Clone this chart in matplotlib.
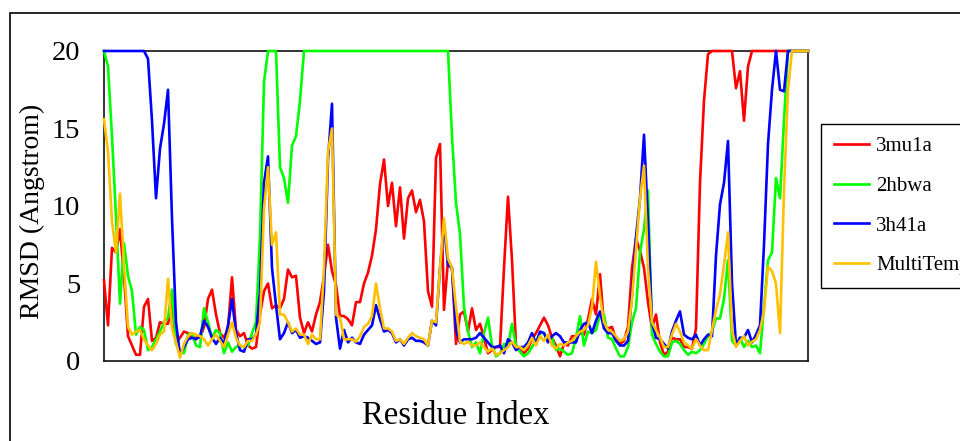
import matplotlib
matplotlib.use("Agg")
import matplotlib.pyplot as plt
from matplotlib.patches import Rectangle
from matplotlib.font_manager import FontProperties

residues = list(range(1, 178))

r3mu1a = [
    5.2, 2.3, 7.3, 7.0, 8.5, 5.5, 1.6, 1.0, 0.4, 0.4,
    3.5, 4.0, 1.3, 1.5, 2.5, 2.4, 2.4, 3.7, 1.2, 1.5,
    1.9, 1.8, 1.5, 1.5, 1.5, 2.2, 4.0, 4.6, 3.0, 1.8,
    1.5, 2.1, 5.4, 2.0, 1.6, 1.8, 1.0, 0.8, 0.9, 3.0,
    4.5, 5.0, 3.4, 3.6, 3.4, 4.0, 5.9, 5.4, 5.5, 2.8,
    1.8, 2.5, 1.9, 3.0, 3.8, 5.5, 7.5, 5.8, 4.9, 2.9,
    2.9, 2.7, 2.3, 3.8, 3.8, 5.0, 5.7, 6.8, 8.5, 11.4,
    13.0, 10.0, 11.5, 8.7, 11.2, 7.9, 10.5, 11.0, 9.6, 10.4,
    9.0, 4.5, 3.5, 13.1, 14.0, 3.3, 6.5, 6.0, 1.1, 3.0,
    3.2, 1.9, 3.4, 2.0, 2.4, 1.5, 0.5, 0.7, 0.9, 0.9,
    6.0, 10.6, 6.5, 1.0, 0.7, 0.5, 0.8, 1.4, 1.8, 2.3,
    2.8, 2.3, 1.5, 1.0, 0.3, 1.1, 1.0, 1.6, 1.6, 1.8,
    1.7, 2.7, 4.0, 3.0, 5.6, 2.3, 2.1, 2.2, 1.4, 1.1,
    1.3, 2.2, 6.0, 7.9, 7.1, 6.0, 3.8, 2.1, 3.0, 1.2,
    0.4, 0.6, 1.5, 1.4, 1.4, 0.9, 0.9, 0.8, 2.1, 11.5,
    16.8, 19.8, 20, 20, 20, 20, 20, 20, 17.6, 18.7,
    15.5, 19.0, 20, 20, 20, 20, 20, 20, 20, 20,
    20, 20, 20, 20, 20, 20, 20,
]

r2hbwa = [
    20, 19.0, 14.5, 9.3, 3.7, 7.6, 5.5, 4.5, 1.7, 2.2,
    2.0, 0.7, 0.9, 1.4, 1.9, 2.5, 2.8, 4.6, 1.1, 0.6,
    0.5, 1.7, 1.8, 1.0, 0.9, 3.4, 2.5, 1.5, 2.0, 1.8,
    0.5, 1.2, 0.6, 0.9, 1.0, 0.9, 1.0, 1.8, 2.5, 8.0,
    18.0, 20, 20, 20, 12.5, 11.8, 10.2, 13.9, 14.5, 16.8,
    20, 20, 20, 20, 20, 20, 20, 20, 20, 20,
    20, 20, 20, 20, 20, 20, 20, 20, 20, 20,
    20, 20, 20, 20, 20, 20, 20, 20, 20, 20,
    20, 20, 20, 20, 20, 20, 20, 14.5, 10.2, 8.2,
    3.5, 1.9, 0.9, 1.2, 0.5, 1.8, 2.8, 1.0, 0.3, 0.5,
    1.1, 1.0, 2.4, 1.0, 0.6, 0.3, 0.5, 0.9, 1.3, 1.8,
    1.8, 1.3, 1.5, 0.7, 0.8, 0.6, 0.4, 0.5, 1.5, 2.9,
    1.0, 1.9, 1.8, 2.0, 3.0, 3.0, 1.5, 1.4, 0.8, 0.3,
    0.3, 0.9, 2.5, 3.4, 7.0, 8.5, 11.0, 1.7, 1.1, 0.6,
    0.3, 0.3, 1.2, 1.3, 1.1, 0.7, 0.4, 0.6, 0.5, 0.7,
    1.1, 1.6, 1.9, 2.75, 2.75, 4.0, 6.5, 1.3, 1.0, 1.5,
    0.9, 1.3, 0.9, 1.0, 0.5, 3.5, 6.5, 7.0, 11.8, 10.5,
    15.5, 20, 20, 20, 20, 20, 20,
]

r3h41a = [
    20, 20, 20, 20, 20, 20, 20, 20, 20, 20,
    20, 19.5, 15.5, 10.5, 13.7, 15.3, 17.5, 9.2, 2.5, 0.4,
    0.9, 1.4, 1.5, 1.4, 1.6, 2.6, 2.2, 1.5, 1.1, 1.5,
    1.1, 2.3, 4.0, 1.8, 0.7, 0.6, 1.4, 1.4, 1.7, 4.5,
    11.5, 13.2, 6.0, 3.6, 1.4, 1.8, 2.5, 1.8, 2.0, 1.5,
    1.6, 1.5, 1.3, 1.1, 1.2, 4.5, 13.0, 16.6, 2.8, 0.8,
    2.0, 1.2, 1.5, 1.2, 1.1, 1.7, 2.0, 2.3, 3.6, 2.7,
    1.9, 2.0, 1.8, 1.2, 1.4, 1.0, 1.4, 1.5, 1.3, 1.3,
    1.2, 1.0, 2.6, 2.3, 6.0, 8.8, 6.2, 6.0, 2.0, 1.2,
    1.4, 1.4, 1.4, 1.5, 1.8, 1.5, 1.2, 0.9, 0.9, 1.0,
    0.5, 1.4, 1.2, 0.7, 0.9, 0.9, 1.2, 1.8, 1.1, 1.9,
    1.8, 1.2, 1.6, 1.8, 1.6, 1.2, 1.2, 1.2, 1.2, 2.0,
    2.4, 2.5, 1.8, 2.6, 3.2, 2.1, 1.8, 1.8, 1.3, 1.0,
    1.0, 1.3, 4.3, 8.0, 10.5, 14.6, 9.0, 2.5, 1.5, 1.4,
    1.1, 0.8, 1.9, 2.6, 3.2, 1.7, 1.5, 1.4, 1.7, 1.0,
    1.4, 1.7, 1.6, 6.8, 10.1, 11.5, 14.2, 5.0, 1.0, 1.5,
    1.5, 2.0, 1.2, 1.7, 2.3, 7.5, 14.0, 17.5, 20, 17.5,
    17.4, 20, 20, 20, 20, 20, 20,
]

multitemp = [
    15.6, 13.5, 9.0, 7.0, 10.8, 6.2, 2.2, 1.7, 1.9, 2.0,
    1.4, 1.0, 0.7, 1.1, 1.7, 1.9, 5.3, 2.1, 1.2, 0.2,
    1.1, 1.6, 1.8, 1.7, 1.6, 1.4, 1.0, 1.4, 1.7, 1.3,
    0.9, 1.7, 2.5, 1.5, 1.0, 0.9, 1.3, 1.3, 1.7, 2.5,
    9.8, 12.5, 7.5, 8.3, 3.0, 3.0, 2.5, 1.9, 2.1, 1.7,
    1.7, 1.1, 1.7, 1.4, 1.4, 6.0, 13.5, 15.0, 3.0, 2.8,
    1.4, 1.4, 1.4, 1.25, 1.6, 2.2, 2.4, 2.9, 5.0, 3.4,
    2.1, 2.1, 1.9, 1.3, 1.4, 1.1, 1.5, 1.8, 1.6, 1.5,
    1.4, 1.0, 2.6, 2.5, 6.0, 9.2, 6.6, 6.0, 3.5, 1.25,
    1.1, 1.25, 1.0, 1.0, 1.2, 0.9, 0.6, 0.8, 0.4, 0.5,
    0.7, 0.9, 1.25, 0.9, 0.9, 0.7, 1.0, 1.5, 1.0, 1.6,
    1.3, 1.7, 1.0, 0.8, 1.1, 1.0, 1.2, 1.3, 1.6, 1.9,
    2.0, 2.3, 3.5, 6.4, 4.2, 2.5, 2.0, 1.9, 1.6, 1.3,
    1.4, 1.9, 4.0, 7.2, 10.5, 12.6, 6.0, 2.5, 2.0, 1.5,
    0.9, 0.9, 1.7, 2.4, 1.9, 1.2, 1.0, 0.8, 1.4, 1.0,
    0.7, 0.7, 2.0, 3.3, 4.3, 6.2, 8.3, 2.0, 0.9, 1.3,
    1.6, 1.0, 1.25, 1.4, 2.0, 3.2, 6.1, 5.8, 5.0, 1.8,
    11.0, 17.5, 20, 20, 20, 20, 20,
]

series_names = ["3mu1a", "2hbwa", "3h41a", "MultiTemp"]
series_colors = ["#FF0000", "#00FF00", "#0000FF", "#FFC000"]
yticks = [0, 5, 10, 15, 20]

W, H = 960, 441
fig = plt.figure(figsize=(W / 100, H / 100), dpi=100)
ax = fig.add_axes([104 / W, 1 - 361 / H, 704 / W, 310 / H])

for name, vals, col in zip(series_names, [r3mu1a, r2hbwa, r3h41a, multitemp], series_colors):
    ax.plot(residues, vals, color=col, lw=1.9, label=name, clip_on=False, zorder=3)

ax.set_xlim(residues[0], residues[-1])
ax.set_ylim(0, 20)
ax.set_xticks([])
ax.set_yticks(yticks)
ax.set_yticklabels([str(t) for t in yticks], fontfamily="Liberation Serif", fontsize=20.5)
ax.tick_params(axis="y", length=0, pad=17)
for sp in ax.spines.values():
    sp.set_color("#111111")
    sp.set_linewidth(1.2)
    sp.set_zorder(2)

ax.set_xlabel("Residue Index", fontfamily="Liberation Serif", fontsize=23.5, va="center")
ax.xaxis.set_label_coords(0.5, -0.175)
ax.set_ylabel("RMSD (Angstrom)", fontfamily="Liberation Serif", fontsize=20, va="center")
ax.yaxis.set_label_coords(-0.102, 0.482)

leg = ax.legend(loc="upper left", bbox_to_anchor=(821 / W, 1 - 124 / H),
                bbox_transform=fig.transFigure, frameon=True, fancybox=False,
                framealpha=1, edgecolor="black", borderaxespad=0,
                borderpad=0.6, labelspacing=0.97, handlelength=1.7, handletextpad=0.35,
                prop=FontProperties(family="Liberation Serif", size=15))
leg.get_frame().set_linewidth(1.0)

fig.add_artist(Rectangle((10 / W, -0.05), 1.2, 1.05 - 13 / H, transform=fig.transFigure,
                         fill=False, edgecolor="black", lw=1.2))

fig.savefig("out.png", dpi=100)
